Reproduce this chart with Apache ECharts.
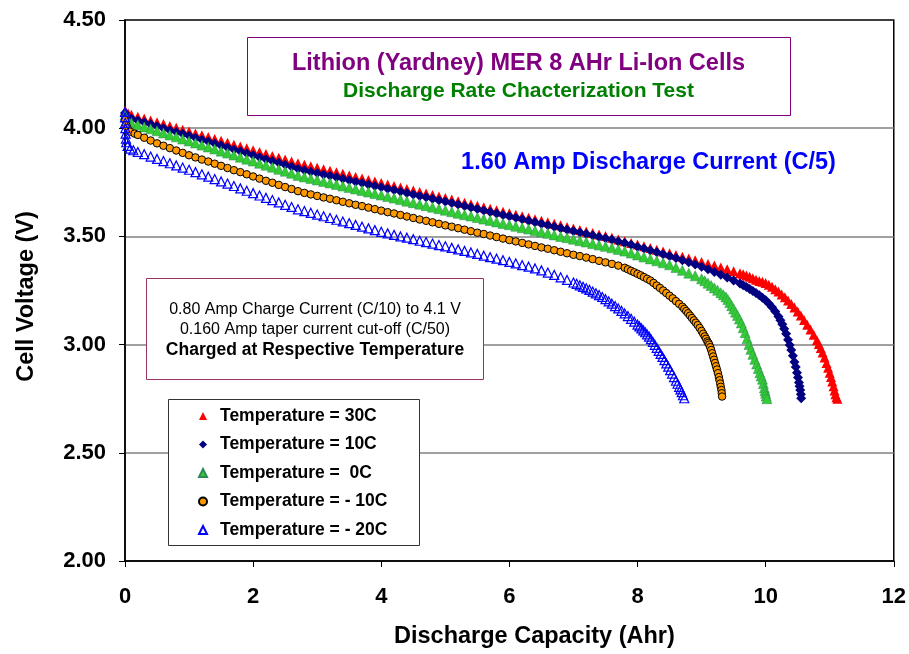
<!DOCTYPE html>
<html>
<head>
<meta charset="utf-8">
<script src="https://cdn.jsdelivr.net/npm/echarts@6/dist/echarts.min.js"></script>
<style>
html,body{margin:0;padding:0;background:#fff;}
#c{width:909px;height:654px;}
</style>
</head>
<body>
<div id="c"></div>
<script>
// Discharge capacity (Ahr) vs cell voltage (V)
const t30 = [[0,4.08],[0.02,4.072],[0.05,4.068],[0.1,4.062],[0.2,4.053],[0.3,4.045],[0.4,4.036],[0.5,4.028],[0.6,4.019],[0.7,4.01],[0.8,4.002],[0.9,3.993],[1.0,3.985],[1.1,3.976],[1.2,3.967],[1.3,3.959],[1.4,3.95],[1.5,3.942],[1.6,3.933],[1.7,3.924],[1.8,3.916],[1.9,3.907],[2.0,3.898],[2.1,3.89],[2.2,3.881],[2.3,3.872],[2.4,3.864],[2.5,3.855],[2.6,3.846],[2.7,3.838],[2.8,3.831],[2.9,3.824],[3.0,3.817],[3.1,3.81],[3.2,3.803],[3.3,3.796],[3.4,3.789],[3.5,3.782],[3.6,3.775],[3.7,3.768],[3.8,3.761],[3.9,3.754],[4.0,3.747],[4.1,3.74],[4.2,3.733],[4.3,3.726],[4.4,3.719],[4.5,3.712],[4.6,3.705],[4.7,3.698],[4.8,3.691],[4.9,3.684],[5.0,3.677],[5.1,3.67],[5.2,3.663],[5.3,3.656],[5.4,3.649],[5.5,3.642],[5.6,3.635],[5.7,3.628],[5.8,3.621],[5.9,3.614],[6.0,3.607],[6.1,3.6],[6.2,3.593],[6.3,3.586],[6.4,3.579],[6.5,3.572],[6.6,3.565],[6.7,3.558],[6.8,3.551],[6.9,3.544],[7.0,3.537],[7.1,3.53],[7.2,3.523],[7.3,3.516],[7.4,3.509],[7.5,3.502],[7.6,3.494],[7.7,3.486],[7.8,3.478],[7.9,3.47],[8.0,3.462],[8.1,3.454],[8.2,3.446],[8.3,3.438],[8.4,3.43],[8.5,3.422],[8.6,3.414],[8.7,3.406],[8.8,3.398],[8.9,3.39],[9.0,3.382],[9.1,3.373],[9.2,3.365],[9.3,3.356],[9.4,3.348],[9.5,3.339],[9.6,3.33],[9.65,3.325],[9.7,3.319],[9.75,3.313],[9.8,3.307],[9.85,3.3],[9.9,3.294],[9.95,3.29],[10.0,3.285],[10.05,3.276],[10.1,3.267],[10.15,3.256],[10.2,3.245],[10.25,3.232],[10.3,3.219],[10.35,3.204],[10.4,3.188],[10.45,3.171],[10.5,3.153],[10.55,3.134],[10.6,3.114],[10.65,3.092],[10.7,3.07],[10.75,3.045],[10.8,3.02],[10.83,3.003],[10.86,2.984],[10.89,2.963],[10.92,2.94],[10.95,2.915],[10.975,2.893],[11.0,2.87],[11.02,2.85],[11.04,2.83],[11.06,2.807],[11.075,2.788],[11.09,2.77],[11.105,2.757],[11.12,2.75]];
const t10 = [[0,4.07],[0.02,4.055],[0.1,4.045],[0.2,4.036],[0.3,4.027],[0.4,4.018],[0.5,4.009],[0.6,4.0],[0.7,3.991],[0.8,3.983],[0.9,3.974],[1.0,3.965],[1.1,3.956],[1.2,3.947],[1.3,3.938],[1.4,3.929],[1.5,3.92],[1.6,3.911],[1.7,3.902],[1.8,3.893],[1.9,3.884],[2.0,3.875],[2.1,3.866],[2.2,3.857],[2.3,3.848],[2.4,3.84],[2.5,3.831],[2.6,3.822],[2.7,3.813],[2.8,3.806],[2.9,3.799],[3.0,3.793],[3.1,3.786],[3.2,3.78],[3.3,3.773],[3.4,3.766],[3.5,3.76],[3.6,3.753],[3.7,3.747],[3.8,3.74],[3.9,3.733],[4.0,3.727],[4.1,3.72],[4.2,3.714],[4.3,3.707],[4.4,3.7],[4.5,3.694],[4.6,3.687],[4.7,3.681],[4.8,3.674],[4.9,3.667],[5.0,3.661],[5.1,3.654],[5.2,3.647],[5.3,3.64],[5.4,3.633],[5.5,3.627],[5.6,3.62],[5.7,3.613],[5.8,3.606],[5.9,3.599],[6.0,3.593],[6.1,3.586],[6.2,3.579],[6.3,3.572],[6.4,3.565],[6.5,3.559],[6.6,3.552],[6.7,3.545],[6.8,3.538],[6.9,3.531],[7.0,3.525],[7.1,3.518],[7.2,3.511],[7.3,3.504],[7.4,3.497],[7.5,3.491],[7.6,3.484],[7.7,3.477],[7.8,3.469],[7.9,3.461],[8.0,3.452],[8.1,3.444],[8.2,3.435],[8.3,3.427],[8.4,3.418],[8.5,3.41],[8.6,3.4],[8.7,3.39],[8.8,3.38],[8.9,3.37],[9.0,3.36],[9.1,3.348],[9.2,3.336],[9.3,3.323],[9.4,3.31],[9.5,3.296],[9.6,3.282],[9.65,3.274],[9.7,3.266],[9.75,3.257],[9.8,3.248],[9.85,3.238],[9.9,3.228],[9.95,3.217],[10.0,3.205],[10.05,3.19],[10.1,3.173],[10.15,3.153],[10.2,3.13],[10.23,3.113],[10.26,3.094],[10.29,3.073],[10.32,3.05],[10.35,3.022],[10.375,2.998],[10.4,2.975],[10.425,2.948],[10.45,2.92],[10.47,2.896],[10.49,2.87],[10.505,2.848],[10.52,2.825],[10.53,2.808],[10.54,2.79],[10.55,2.77],[10.555,2.752]];
const t0 = [[0,4.06],[0.03,4.04],[0.1,4.025],[0.2,4.016],[0.3,4.006],[0.4,3.997],[0.5,3.988],[0.6,3.978],[0.7,3.969],[0.8,3.96],[0.9,3.95],[1.0,3.941],[1.1,3.932],[1.2,3.922],[1.3,3.913],[1.4,3.904],[1.5,3.894],[1.6,3.885],[1.7,3.876],[1.8,3.866],[1.9,3.857],[2.0,3.848],[2.1,3.838],[2.2,3.829],[2.3,3.82],[2.4,3.81],[2.5,3.801],[2.6,3.792],[2.7,3.782],[2.8,3.775],[2.9,3.768],[3.0,3.761],[3.1,3.754],[3.2,3.747],[3.3,3.74],[3.4,3.733],[3.5,3.726],[3.6,3.719],[3.7,3.712],[3.8,3.705],[3.9,3.698],[4.0,3.691],[4.1,3.684],[4.2,3.677],[4.3,3.67],[4.4,3.663],[4.5,3.656],[4.6,3.649],[4.7,3.642],[4.8,3.635],[4.9,3.628],[5.0,3.621],[5.1,3.614],[5.2,3.607],[5.3,3.6],[5.4,3.594],[5.5,3.587],[5.6,3.58],[5.7,3.574],[5.8,3.567],[5.9,3.56],[6.0,3.554],[6.1,3.547],[6.2,3.54],[6.3,3.534],[6.4,3.527],[6.5,3.52],[6.6,3.514],[6.7,3.507],[6.8,3.5],[6.9,3.494],[7.0,3.487],[7.1,3.48],[7.2,3.474],[7.3,3.467],[7.4,3.46],[7.5,3.454],[7.6,3.447],[7.7,3.44],[7.8,3.432],[7.9,3.423],[8.0,3.414],[8.1,3.405],[8.2,3.396],[8.3,3.387],[8.4,3.378],[8.5,3.369],[8.6,3.356],[8.7,3.343],[8.8,3.33],[8.9,3.318],[9.0,3.304],[9.05,3.295],[9.1,3.284],[9.15,3.273],[9.2,3.262],[9.25,3.251],[9.3,3.24],[9.34,3.23],[9.38,3.22],[9.41,3.208],[9.44,3.195],[9.47,3.18],[9.5,3.165],[9.53,3.15],[9.56,3.135],[9.59,3.118],[9.62,3.1],[9.65,3.078],[9.68,3.055],[9.71,3.028],[9.74,3.0],[9.77,2.978],[9.8,2.955],[9.83,2.932],[9.86,2.91],[9.885,2.89],[9.91,2.87],[9.93,2.855],[9.95,2.84],[9.965,2.82],[9.98,2.8],[9.99,2.787],[10.0,2.775],[10.01,2.762],[10.02,2.75]];
const tm10 = [[0,4.04],[0.02,4.015],[0.04,4.0],[0.08,3.984],[0.15,3.975],[0.2,3.969],[0.3,3.956],[0.4,3.943],[0.5,3.93],[0.6,3.919],[0.7,3.908],[0.8,3.897],[0.9,3.886],[1.0,3.875],[1.1,3.865],[1.2,3.855],[1.3,3.846],[1.4,3.836],[1.5,3.826],[1.6,3.816],[1.7,3.806],[1.8,3.797],[1.9,3.787],[2.0,3.777],[2.1,3.767],[2.2,3.757],[2.3,3.748],[2.4,3.738],[2.5,3.728],[2.6,3.719],[2.7,3.709],[2.8,3.701],[2.9,3.694],[3.0,3.687],[3.1,3.68],[3.2,3.674],[3.3,3.667],[3.4,3.66],[3.5,3.653],[3.6,3.646],[3.7,3.64],[3.8,3.633],[3.9,3.626],[4.0,3.619],[4.1,3.612],[4.2,3.606],[4.3,3.599],[4.4,3.592],[4.5,3.585],[4.6,3.578],[4.7,3.572],[4.8,3.565],[4.9,3.558],[5.0,3.551],[5.1,3.545],[5.2,3.538],[5.3,3.531],[5.4,3.524],[5.5,3.517],[5.6,3.511],[5.7,3.504],[5.8,3.497],[5.9,3.49],[6.0,3.483],[6.1,3.477],[6.2,3.47],[6.3,3.463],[6.4,3.456],[6.5,3.449],[6.6,3.443],[6.7,3.436],[6.8,3.429],[6.9,3.422],[7.0,3.415],[7.1,3.409],[7.2,3.402],[7.3,3.395],[7.4,3.387],[7.5,3.38],[7.6,3.373],[7.7,3.365],[7.8,3.355],[7.85,3.348],[7.9,3.341],[7.95,3.334],[8.0,3.327],[8.05,3.32],[8.1,3.312],[8.15,3.304],[8.2,3.296],[8.25,3.285],[8.3,3.273],[8.35,3.262],[8.4,3.25],[8.45,3.238],[8.5,3.226],[8.55,3.214],[8.6,3.201],[8.65,3.188],[8.7,3.175],[8.73,3.165],[8.76,3.155],[8.79,3.145],[8.82,3.134],[8.85,3.123],[8.88,3.112],[8.91,3.101],[8.94,3.09],[8.97,3.077],[9.0,3.063],[9.025,3.05],[9.05,3.038],[9.07,3.027],[9.09,3.015],[9.105,3.008],[9.12,3.0],[9.135,2.988],[9.15,2.975],[9.165,2.96],[9.18,2.945],[9.195,2.93],[9.21,2.915],[9.225,2.9],[9.24,2.885],[9.255,2.868],[9.27,2.85],[9.28,2.835],[9.29,2.82],[9.3,2.805],[9.31,2.79],[9.315,2.775],[9.32,2.76]];
const tm20 = [[0,4.075],[0,4.05],[0.003,4.025],[0.006,4.0],[0.01,3.975],[0.015,3.952],[0.02,3.935],[0.04,3.918],[0.08,3.906],[0.13,3.898],[0.2,3.89],[0.3,3.88],[0.4,3.869],[0.5,3.858],[0.6,3.848],[0.7,3.838],[0.8,3.828],[0.9,3.818],[1.0,3.808],[1.1,3.797],[1.2,3.787],[1.3,3.776],[1.4,3.765],[1.5,3.754],[1.6,3.744],[1.7,3.733],[1.8,3.722],[1.9,3.711],[2.0,3.7],[2.1,3.689],[2.2,3.678],[2.3,3.668],[2.4,3.657],[2.5,3.646],[2.6,3.636],[2.7,3.625],[2.8,3.617],[2.9,3.609],[3.0,3.601],[3.1,3.593],[3.2,3.585],[3.3,3.577],[3.4,3.569],[3.5,3.561],[3.6,3.553],[3.7,3.545],[3.8,3.537],[3.9,3.529],[4.0,3.521],[4.1,3.514],[4.2,3.507],[4.3,3.5],[4.4,3.494],[4.5,3.487],[4.6,3.48],[4.7,3.474],[4.8,3.467],[4.9,3.46],[5.0,3.454],[5.1,3.447],[5.2,3.44],[5.3,3.433],[5.4,3.426],[5.5,3.419],[5.6,3.411],[5.7,3.404],[5.8,3.397],[5.9,3.39],[6.0,3.382],[6.1,3.375],[6.2,3.367],[6.3,3.36],[6.4,3.352],[6.5,3.343],[6.6,3.333],[6.7,3.322],[6.8,3.311],[6.9,3.299],[7.0,3.287],[7.05,3.281],[7.1,3.274],[7.15,3.267],[7.2,3.26],[7.25,3.253],[7.3,3.245],[7.35,3.237],[7.4,3.229],[7.45,3.22],[7.5,3.21],[7.55,3.2],[7.6,3.189],[7.65,3.178],[7.7,3.167],[7.75,3.156],[7.8,3.144],[7.85,3.132],[7.9,3.119],[7.95,3.106],[8.0,3.092],[8.03,3.084],[8.06,3.075],[8.09,3.066],[8.12,3.057],[8.15,3.047],[8.18,3.037],[8.21,3.025],[8.24,3.012],[8.27,2.999],[8.3,2.985],[8.33,2.971],[8.36,2.957],[8.39,2.943],[8.42,2.928],[8.45,2.913],[8.48,2.898],[8.51,2.882],[8.54,2.866],[8.57,2.85],[8.6,2.833],[8.625,2.819],[8.65,2.805],[8.67,2.793],[8.69,2.78],[8.71,2.766],[8.73,2.752]];

const seriesNames = ['Temperature = 30C','Temperature = 10C','Temperature =  0C','Temperature = - 10C','Temperature = - 20C'];
const xTicks = {min:0, max:12, step:2};
const yTicks = {min:2, max:4.5, step:0.5};
const titleLine1 = 'Lithion (Yardney) MER 8 AHr Li-Ion Cells';
const titleLine2 = 'Discharge Rate Chacterization Test';
const currentNote = '1.60 Amp Discharge Current (C/5)';
const chargeNotes = ['0.80 Amp Charge Current (C/10) to 4.1 V','0.160 Amp taper current cut-off (C/50)','Charged at Respective Temperature'];

const FONT = '"Liberation Sans", Arial, Helvetica, sans-serif';
const chart = echarts.init(document.getElementById('c'), null, {renderer:'canvas'});

function sc(name, data, symbol, size, style){
  style.opacity = 1;
  return {type:'scatter', name:name, data:data, symbol:symbol, symbolSize:size, itemStyle:style,
          emphasis:{disabled:true}, animation:false, large:false};
}

chart.setOption({
  animation:false,
  backgroundColor:'#fff',
  grid:{left:125, right:14, top:20, bottom:93, show:true, borderColor:'#000', borderWidth:1.5, backgroundColor:'transparent'},
  xAxis:{type:'value', min:xTicks.min, max:xTicks.max, interval:xTicks.step,
    name:'Discharge Capacity (Ahr)', nameLocation:'middle', nameGap:64,
    nameTextStyle:{fontFamily:FONT, fontWeight:'bold', fontSize:23.5, color:'#000', padding:[0,0,0,50]},
    axisLine:{lineStyle:{color:'#000', width:1.5}},
    axisTick:{show:true, inside:false, length:6, lineStyle:{color:'#000', width:1}},
    axisLabel:{fontFamily:FONT, fontWeight:'bold', fontSize:22, color:'#000', margin:25},
    splitLine:{show:false}},
  yAxis:{type:'value', min:yTicks.min, max:yTicks.max, interval:yTicks.step,
    name:'Cell Voltage (V)', nameLocation:'middle', nameGap:86,
    nameTextStyle:{fontFamily:FONT, fontWeight:'bold', fontSize:23.5, color:'#000', padding:[0,12,0,0]},
    axisLine:{lineStyle:{color:'#000', width:1.5}},
    axisTick:{show:true, inside:false, length:6, lineStyle:{color:'#000', width:1}},
    axisLabel:{fontFamily:FONT, fontWeight:'bold', fontSize:22, color:'#000', margin:19,
      formatter:function(v){return v.toFixed(2);}},
    splitLine:{show:true, showMinLine:false, showMaxLine:false, lineStyle:{color:'#808080', width:1.5}}},
  legend:{show:true, orient:'vertical', left:193, top:402, itemGap:10.5, itemWidth:8, itemHeight:8,
    data:seriesNames, selectedMode:false, z:20,
    textStyle:{fontFamily:FONT, fontWeight:'bold', fontSize:17.5, color:'#000', lineHeight:18, padding:[0,0,0,8]}},
  graphic:[
    {type:'rect', z:100, shape:{x:247.5, y:37.5, width:543, height:78}, style:{fill:'#fff', stroke:'#800080', lineWidth:1}},
    {type:'text', z:101, x:518.5, y:63.5, style:{text:titleLine1, fill:'#800080', font:'bold 23.5px '+FONT, align:'center', verticalAlign:'middle'}},
    {type:'text', z:101, x:518.5, y:91.5, style:{text:titleLine2, fill:'#008000', font:'bold 21px '+FONT, align:'center', verticalAlign:'middle'}},
    {type:'text', z:101, x:648.5, y:163, style:{text:currentNote, fill:'#0000FF', font:'bold 23.5px '+FONT, align:'center', verticalAlign:'middle'}},
    {type:'rect', z:100, shape:{x:146.5, y:278.5, width:337, height:101}, style:{fill:'#fff', stroke:'#993366', lineWidth:1}},
    {type:'text', z:101, x:315, y:309.5, style:{text:chargeNotes[0], fill:'#000', font:'16px '+FONT, align:'center', verticalAlign:'middle'}},
    {type:'text', z:101, x:315, y:329.5, style:{text:chargeNotes[1], fill:'#000', font:'16px '+FONT, align:'center', verticalAlign:'middle'}},
    {type:'text', z:101, x:315, y:350, style:{text:chargeNotes[2], fill:'#000', font:'bold 17.5px '+FONT, align:'center', verticalAlign:'middle'}},
    {type:'rect', z:3, shape:{x:168.5, y:399.5, width:251, height:146}, style:{fill:'#fff', stroke:'#333', lineWidth:1}}
  ],
  series:[
    sc(seriesNames[0], t30, 'triangle', 10, {color:'#FF0000'}),
    sc(seriesNames[1], t10, 'diamond', 10, {color:'#000080'}),
    sc(seriesNames[2], t0, 'triangle', 10, {color:'#33CC33', borderColor:'#2E8B57', borderWidth:0.5}),
    sc(seriesNames[3], tm10, 'circle', 7.5, {color:'#FF9900', borderColor:'#000', borderWidth:1}),
    sc(seriesNames[4], tm20, 'triangle', 9, {color:'rgba(255,255,255,0)', borderColor:'#0000FF', borderWidth:1.2})
  ]
});
</script>
</body>
</html>
